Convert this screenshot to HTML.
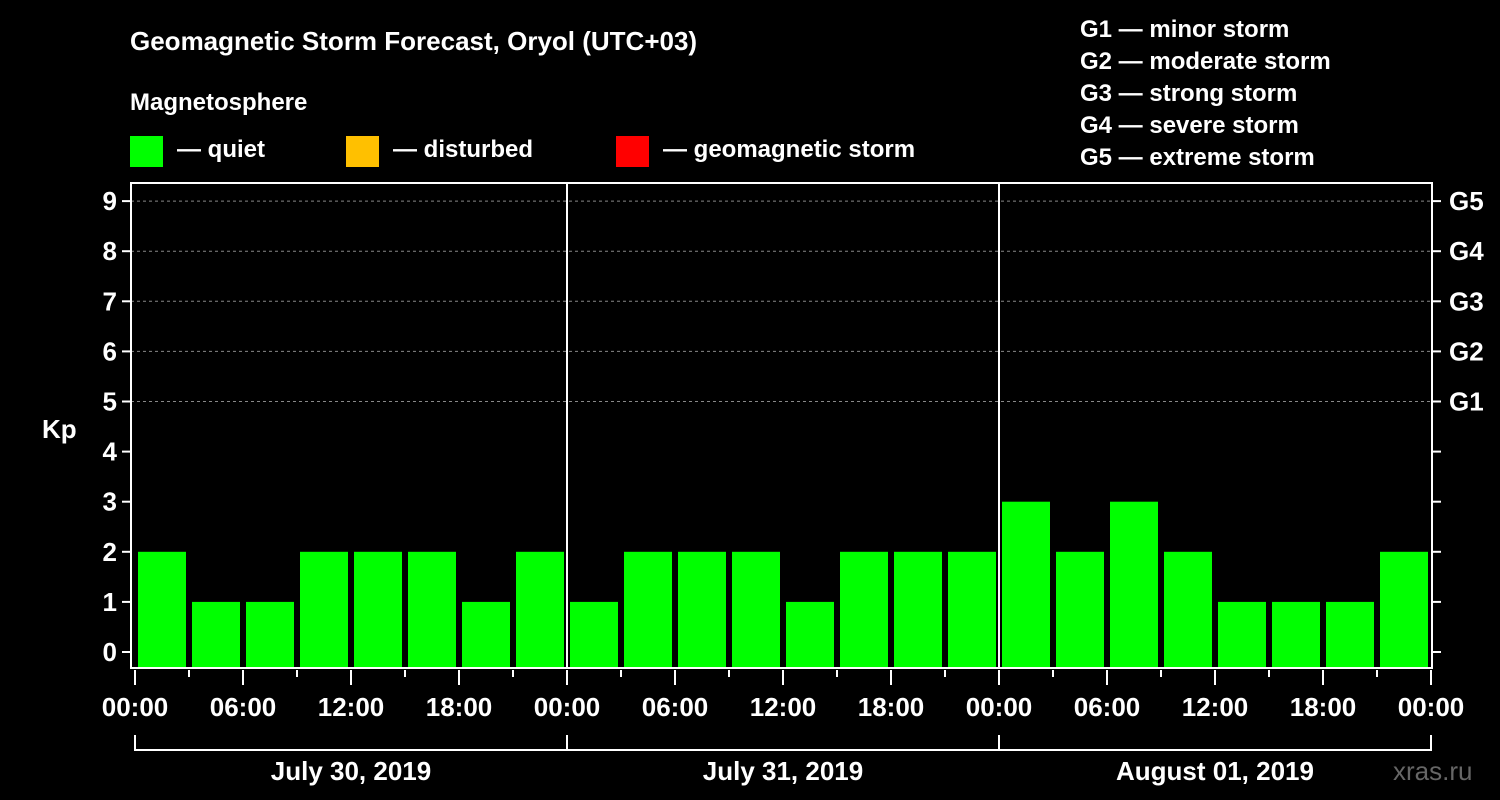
<!DOCTYPE html>
<html><head><meta charset="utf-8">
<style>
body{margin:0;background:#000;width:1500px;height:800px;overflow:hidden}
svg{display:block;font-family:"Liberation Sans",Arial,sans-serif;font-weight:bold}
</style></head>
<body>
<svg id="chart" width="1500" height="800">
<text x="130" y="50" fill="#fff" font-size="26">Geomagnetic Storm Forecast, Oryol (UTC+03)</text>
<text x="130" y="110" fill="#fff" font-size="24">Magnetosphere</text>
<g>
<rect x="130" y="136" width="33" height="31" fill="#00ff00"/>
<text x="177" y="157" fill="#fff" font-size="24">— quiet</text>
<rect x="346" y="136" width="33" height="31" fill="#ffc000"/>
<text x="393" y="157" fill="#fff" font-size="24">— disturbed</text>
<rect x="616" y="136" width="33" height="31" fill="#ff0000"/>
<text x="663" y="157" fill="#fff" font-size="24">— geomagnetic storm</text>
</g>
<g fill="#fff" font-size="24">
<text x="1080" y="37">G1 — minor storm</text>
<text x="1080" y="69">G2 — moderate storm</text>
<text x="1080" y="101">G3 — strong storm</text>
<text x="1080" y="133">G4 — severe storm</text>
<text x="1080" y="165">G5 — extreme storm</text>
</g>
<text x="42" y="438" fill="#fff" font-size="26">Kp</text>
<text x="1393" y="780" fill="#666" font-size="26" font-weight="normal">xras.ru</text>
<g id="plot"></g>
</svg>
<script>
const kpValues = [2,1,1,2,2,2,1,2, 1,2,2,2,1,2,2,2, 3,2,3,2,1,1,1,2];
const dayLabels = ["July 30, 2019","July 31, 2019","August 01, 2019"];
const yTicks = [0,1,2,3,4,5,6,7,8,9];
const gLabels = ["G1","G2","G3","G4","G5"];
const hourLabels = ["00:00","06:00","12:00","18:00"];

const NS="http://www.w3.org/2000/svg";
const plot=document.getElementById('plot');
const L=131,R=1432,T=183,B=668,X0=135,DAYW=432;
const y=v=>652-v*50.1;
const x=h=>X0+h*DAYW/24;
function mk(tag,a){const e=document.createElementNS(NS,tag);for(const k in a)e.setAttribute(k,a[k]);plot.appendChild(e);return e;}
// grid
yTicks.forEach(v=>{
  if(v>=5){const g=mk('line',{x1:L,x2:R,y1:y(v),y2:y(v),stroke:'#888','stroke-dasharray':'3,3','stroke-width':1});
  
  }
  const t=mk('line',{x1:L-9,x2:L,y1:y(v),y2:y(v),stroke:'#fff','stroke-width':2});
  
  
  const rt=mk('line',{x1:R,x2:R+9,y1:y(v),y2:y(v),stroke:'#fff','stroke-width':2});
  
  
  const lb=mk('text',{x:L-14,y:y(v)+9,fill:'#fff','font-size':26,'text-anchor':'end'});
  lb.textContent=v;
  
  
});
gLabels.forEach((g,i)=>{
  const lb=mk('text',{x:R+17,y:y(5+i)+9,fill:'#fff','font-size':26});
  lb.textContent=g;
  
  
});
// bars
kpValues.forEach((v,i)=>{
  const b=mk('rect',{x:x(i*3)+3,y:y(v),width:48,height:B-y(v),fill:'#00ff00'});
  
  
});
// frame
const fr=mk('rect',{x:L,y:T,width:R-L,height:B-T,fill:'none',stroke:'#fff','stroke-width':2});


for(let d=1;d<dayLabels.length;d++){
  const s=mk('line',{x1:x(24*d),x2:x(24*d),y1:T,y2:B,stroke:'#fff','stroke-width':2});
  
  
}
// x ticks
for(let h=0;h<=24*dayLabels.length;h+=3){
  const major=h%6===0;
  const t=mk('line',{x1:x(h),x2:x(h),y1:B+2,y2:major?B+17:B+9,stroke:'#fff','stroke-width':2});
  
  
  if(major){
    const lb=mk('text',{x:x(h),y:716,fill:'#fff','font-size':26,'text-anchor':'middle'});
    lb.textContent=hourLabels[(h/6)%4];
    
    
  }
}
dayLabels.forEach((d,i)=>{
  const p=mk('path',{d:`M${x(24*i)},735V750H${x(24*(i+1))}V735`,fill:'none',stroke:'#fff','stroke-width':2});
  
  
  const lb=mk('text',{x:x(24*i+12),y:780,fill:'#fff','font-size':26,'text-anchor':'middle'});
  lb.textContent=d;
  
  
});
</script>
</body></html>
